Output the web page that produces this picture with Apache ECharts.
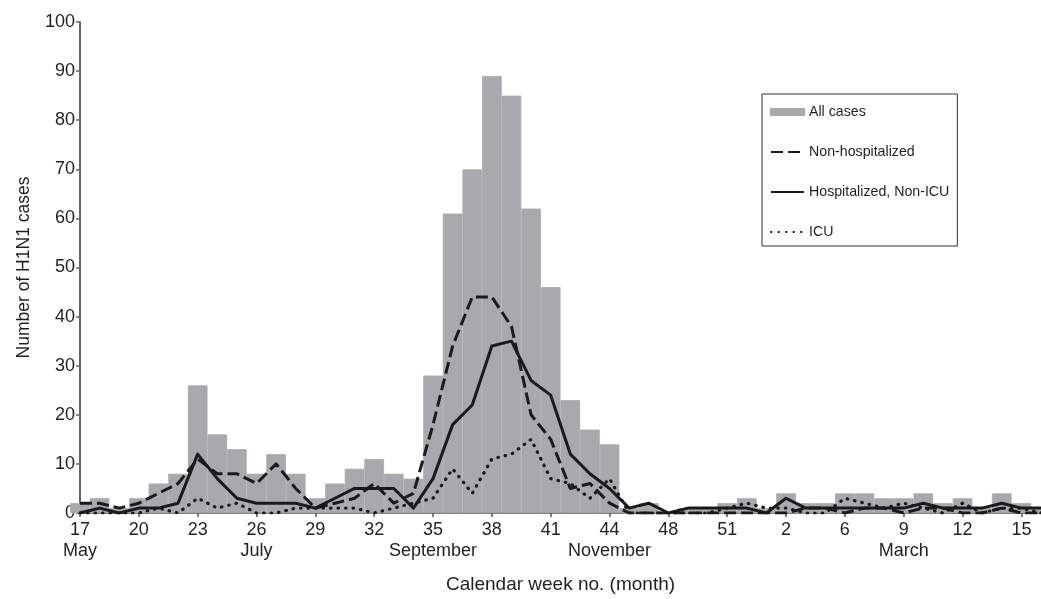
<!DOCTYPE html>
<html>
<head>
<meta charset="utf-8">
<script src="https://cdn.jsdelivr.net/npm/echarts@6/dist/echarts.min.js"></script>
<style>
html,body{margin:0;padding:0;background:#fff;}
#chart{width:1041px;height:599px;}
</style>
</head>
<body>
<div id="chart"></div>
<script>
// Calendar weeks (category slots); labels shown every third slot
const weeks = ['17','18','19','20','21','22','23','24','25','26','27','28','29','30','31','32','33','34','35','36','37','38','39','40','41','42','43','44',
  '45','46','48','49','50','51','52','1','2','4','5','6','7','8','9','10','11','12','13','14','15','16'];
// Month names shown under selected week labels
const monthWeeks = ['17','26','35','44','9'];
const monthNames = ['May','July','September','November','March'];

const allCases = [2,3,1,3,6,8,26,16,13,8,12,8,3,6,9,11,8,7,28,61,70,89,85,62,46,23,17,14,
  1,2,0,1,1,2,3,1,4,2,2,4,4,3,3,4,2,3,1,4,2,1];
const nonHosp = [2,2,1,2,4,6,11,8,8,6,10,5,1,2,3,6,2,4,18,34,44,44,38,20,15,5,6,2,
  0,0,0,0,0,0,0,0,0,1,1,0,1,1,0,1,1,0,0,1,0,0];
const hospNonICU = [0,1,0,1,1,2,12,7,3,2,2,2,1,3,5,5,5,1,7,18,22,34,35,27,24,12,8,5,
  1,2,0,1,1,1,1,0,3,1,1,1,1,1,1,2,1,1,1,2,1,1];
const icu = [0,0,0,0,1,0,3,1,2,0,0,1,1,1,1,0,1,2,3,9,4,11,12,15,7,6,3,7,
  0,0,0,0,0,1,2,1,1,0,0,3,2,1,2,1,0,2,0,1,1,0];

const FONT = "'Liberation Sans', Arial, Helvetica, sans-serif";
const TXT = '#231f20';
const BAR = '#a7a9ac';
const INK = '#1a1a1a';

const chart = echarts.init(document.getElementById('chart'), null, {renderer:'canvas'});
chart.setOption({
  animation: false,
  backgroundColor: '#fff',
  textStyle: {fontFamily: FONT, color: TXT},
  grid: {left: 80, top: 22, bottom: 84, right: -7, containLabel: false},
  legend: {
    orient: 'vertical', left: 762, top: 94,
    padding: [10, 8, 6, 8],
    borderColor: '#333', borderWidth: 1, backgroundColor: '#fff',
    itemWidth: 33, itemHeight: 6, itemGap: 24,
    textStyle: {fontSize: 14.2, lineHeight: 16, color: TXT, fontFamily: FONT},
    data: [
      {name: 'All cases', icon: 'rect'},
      {name: 'Non-hospitalized', itemStyle: {opacity: 0}},
      {name: 'Hospitalized, Non-ICU', itemStyle: {opacity: 0}},
      {name: 'ICU', itemStyle: {opacity: 0}}
    ]
  },
  xAxis: {
    type: 'category',
    data: weeks,
    boundaryGap: false,
    name: 'Calendar week no. (month)',
    nameLocation: 'middle',
    nameGap: 62,
    nameTextStyle: {fontSize: 19, color: TXT, fontFamily: FONT},
    axisLine: {show: true, lineStyle: {color: '#555', width: 1.5}},
    axisTick: {show: true, interval: 2, length: 4, inside: false, lineStyle: {color: '#555', width: 1.5}},
    axisLabel: {
      interval: 2, margin: 7, fontSize: 18, lineHeight: 21, color: TXT, fontFamily: FONT,
      formatter: function (v) {
        const k = monthWeeks.indexOf(v);
        return k >= 0 ? v + '\n' + monthNames[k] : v;
      }
    },
    splitLine: {show: false}
  },
  yAxis: {
    type: 'value', min: 0, max: 100, interval: 10,
    name: 'Number of H1N1 cases',
    nameLocation: 'middle',
    nameGap: 47,
    nameTextStyle: {fontSize: 17.5, color: TXT, fontFamily: FONT},
    axisLine: {show: true, lineStyle: {color: '#666', width: 2}},
    axisTick: {show: true, length: 4, lineStyle: {color: '#666', width: 1.5}},
    axisLabel: {margin: 5, fontSize: 18, color: TXT, fontFamily: FONT},
    splitLine: {show: false}
  },
  series: [
    {
      name: 'All cases', type: 'bar', data: allCases,
      barWidth: '100%', barCategoryGap: '0%', clip: true,
      itemStyle: {color: BAR, borderColor: BAR, borderWidth: 0.8}, z: 1
    },
    {
      name: 'Non-hospitalized', type: 'line', data: nonHosp, symbol: 'none',
      lineStyle: {color: INK, width: 3, type: [12, 5], join: 'round'},
      itemStyle: {color: INK}, z: 3
    },
    {
      name: 'Hospitalized, Non-ICU', type: 'line', data: hospNonICU, symbol: 'none',
      lineStyle: {color: INK, width: 3, type: 'solid', join: 'round'},
      itemStyle: {color: INK}, z: 3
    },
    {
      name: 'ICU', type: 'line', data: icu, symbol: 'none',
      lineStyle: {color: INK, width: 3.2, type: [0.5, 7], cap: 'round', join: 'round'},
      itemStyle: {color: INK}, z: 3
    }
  ]
});
</script>
</body>
</html>
